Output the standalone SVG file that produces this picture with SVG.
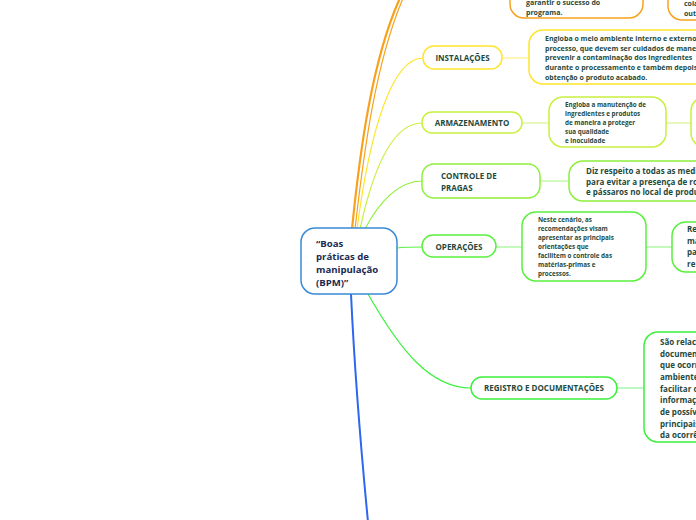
<svg xmlns="http://www.w3.org/2000/svg" width="696" height="520" viewBox="0 0 696 520">
<style>
.t{font-family:"Open Sans","Noto Sans","Liberation Sans",sans-serif;font-weight:bold;fill:#1f4a3c}
.c{fill:none}
.box{fill:#fff;stroke-width:1.5}
</style>
<rect width="696" height="520" fill="#fff"/>
<g id="connectors" class="c">
<path d="M352,229 C360,150 372,60 400,-2" stroke="#f7a21f" stroke-width="2.2"/>
<path d="M355,229 C364,150 376,60 404,-4" stroke="#f7a21f" stroke-width="1.2"/>
<path d="M357,229 C370,130 392,58 423,58" stroke="#ffe52a" stroke-width="1.2"/>
<path d="M360,229 C375,160 395,123 422,123" stroke="#c8f03c" stroke-width="1.2"/>
<path d="M365,229 C380,200 400,181 422,181" stroke="#8df03c" stroke-width="1.2"/>
<path d="M397,248 C405,247 413,247 422,247" stroke="#5af03c" stroke-width="1.2"/>
<path d="M368,294 C400,350 430,388 471,388" stroke="#3cf03c" stroke-width="1.2"/>
<path d="M351,294 C355,380 362,460 368,522" stroke="#2d66f0" stroke-width="2"/>
<path d="M502,58 L529,58" stroke="#fff2a0" stroke-width="1.5"/>
<path d="M522,123 L549,123 M666,123 L691,123" stroke="#e2f7a8" stroke-width="1.5"/>
<path d="M540,181 L569,181" stroke="#c6f7a8" stroke-width="1.5"/>
<path d="M496,247 L522,247 M646,247 L672,247" stroke="#b0f7a8" stroke-width="1.5"/>
<path d="M617,388 L644,388" stroke="#a8f7b0" stroke-width="1.5"/>
</g>
<g id="orange1">
<rect x="510" y="-40" width="133" height="58" rx="14" class="box" stroke="#f7a21f"/>
<text class="t" font-size="7" x="526" y="5">garantir o sucesso do</text>
<text class="t" font-size="7" x="526" y="14.5">programa.</text>
</g>
<g id="orange2">
<rect x="668" y="-40" width="70" height="60" rx="14" class="box" stroke="#f7a21f"/>
<text class="t" font-size="7" x="684" y="6">cola</text>
<text class="t" font-size="7" x="684" y="15.5">out</text>
</g>
<g id="center">
<rect x="301" y="228" width="96" height="66" rx="14" class="box" stroke="#3a8ad8"/>
<text class="t" font-size="9.6" x="316" y="247" style="fill:#1b2a52">“Boas</text>
<text class="t" font-size="9.6" x="316" y="260" style="fill:#1b2a52">práticas de</text>
<text class="t" font-size="9.6" x="316" y="273" style="fill:#1b2a52">manipulação</text>
<text class="t" font-size="9.6" x="316" y="286" style="fill:#1b2a52">(BPM)”</text>
</g>
<g id="instalacoes">
<rect x="423" y="46" width="79" height="23" rx="11" class="box" stroke="#ffe52a"/>
<text class="t" font-size="8" x="462.5" y="61" text-anchor="middle">INSTALAÇÕES</text>
</g>
<g id="instalacoes-desc">
<rect x="529" y="30" width="190" height="54" rx="14" class="box" stroke="#ffe52a"/>
<text class="t" font-size="7" x="545" y="41">Engloba o meio ambiente interno e externo ao</text>
<text class="t" font-size="7" x="545" y="51">processo, que devem ser cuidados de maneira a</text>
<text class="t" font-size="7" x="545" y="60">prevenir a contaminação dos ingredientes</text>
<text class="t" font-size="7" x="545" y="70">durante o processamento e também depois da</text>
<text class="t" font-size="7" x="545" y="79.5">obtenção o produto acabado.</text>
</g>
<g id="armazenamento">
<rect x="422" y="112" width="100" height="21" rx="10" class="box" stroke="#c8f03c"/>
<text class="t" font-size="8" x="472" y="126" text-anchor="middle">ARMAZENAMENTO</text>
</g>
<g id="armazenamento-desc">
<rect x="549" y="97" width="117" height="50" rx="14" class="box" stroke="#c8f03c"/>
<text class="t" font-size="6.3" x="565" y="107">Engloba a manutenção de</text>
<text class="t" font-size="6.3" x="565" y="116">ingredientes e produtos</text>
<text class="t" font-size="6.3" x="565" y="125">de maneira a proteger</text>
<text class="t" font-size="6.3" x="565" y="134">sua qualidade</text>
<text class="t" font-size="6.3" x="565" y="143">e inocuidade</text>
</g>
<g id="armazenamento-next">
<rect x="691" y="97" width="60" height="50" rx="14" class="box" stroke="#c8f03c"/>
</g>
<g id="controle">
<rect x="422" y="164" width="118" height="34" rx="12" class="box" stroke="#8df03c"/>
<text class="t" font-size="8" x="441" y="179">CONTROLE DE</text>
<text class="t" font-size="8" x="441" y="191">PRAGAS</text>
</g>
<g id="controle-desc">
<rect x="569" y="161" width="170" height="40" rx="14" class="box" stroke="#8df03c"/>
<text class="t" font-size="8" x="586" y="174">Diz respeito a todas as medidas</text>
<text class="t" font-size="8" x="586" y="184.5">para evitar a presença de roedores</text>
<text class="t" font-size="8" x="586" y="195">e pássaros no local de produção</text>
</g>
<g id="operacoes">
<rect x="422" y="235" width="74" height="22" rx="11" class="box" stroke="#5af03c"/>
<text class="t" font-size="8" x="459" y="250" text-anchor="middle">OPERAÇÕES</text>
</g>
<g id="operacoes-desc">
<rect x="522" y="212" width="124" height="69" rx="14" class="box" stroke="#5af03c"/>
<text class="t" font-size="6.3" x="538" y="222">Neste cenário, as</text>
<text class="t" font-size="6.3" x="538" y="231">recomendações visam</text>
<text class="t" font-size="6.3" x="538" y="240">apresentar as principais</text>
<text class="t" font-size="6.3" x="538" y="249">orientações que</text>
<text class="t" font-size="6.3" x="538" y="258">facilitem o controle das</text>
<text class="t" font-size="6.3" x="538" y="267">matérias-primas e</text>
<text class="t" font-size="6.3" x="538" y="276">processos.</text>
</g>
<g id="operacoes-next">
<rect x="672" y="222" width="70" height="50" rx="14" class="box" stroke="#5af03c"/>
<text class="t" font-size="8" x="687" y="232">Re</text>
<text class="t" font-size="8" x="687" y="243.5">ma</text>
<text class="t" font-size="8" x="687" y="255">pa</text>
<text class="t" font-size="8" x="687" y="266.5">re</text>
</g>
<g id="registro">
<rect x="471" y="377" width="146" height="22" rx="11" class="box" stroke="#3cf03c"/>
<text class="t" font-size="8" x="544" y="391" text-anchor="middle">REGISTRO E DOCUMENTAÇÕES</text>
</g>
<g id="registro-desc">
<rect x="644" y="332" width="100" height="110" rx="14" class="box" stroke="#3cf03c"/>
<text class="t" font-size="8" x="660" y="345">São relacionados</text>
<text class="t" font-size="8" x="660" y="356.5">documentos</text>
<text class="t" font-size="8" x="660" y="368">que ocorrem</text>
<text class="t" font-size="8" x="660" y="380">ambiente</text>
<text class="t" font-size="8" x="660" y="391.5">facilitar o</text>
<text class="t" font-size="8" x="660" y="403">informações</text>
<text class="t" font-size="8" x="660" y="415">de possíveis</text>
<text class="t" font-size="8" x="660" y="426.5">principais</text>
<text class="t" font-size="8" x="660" y="438">da ocorrência</text>
</g>
</svg>
